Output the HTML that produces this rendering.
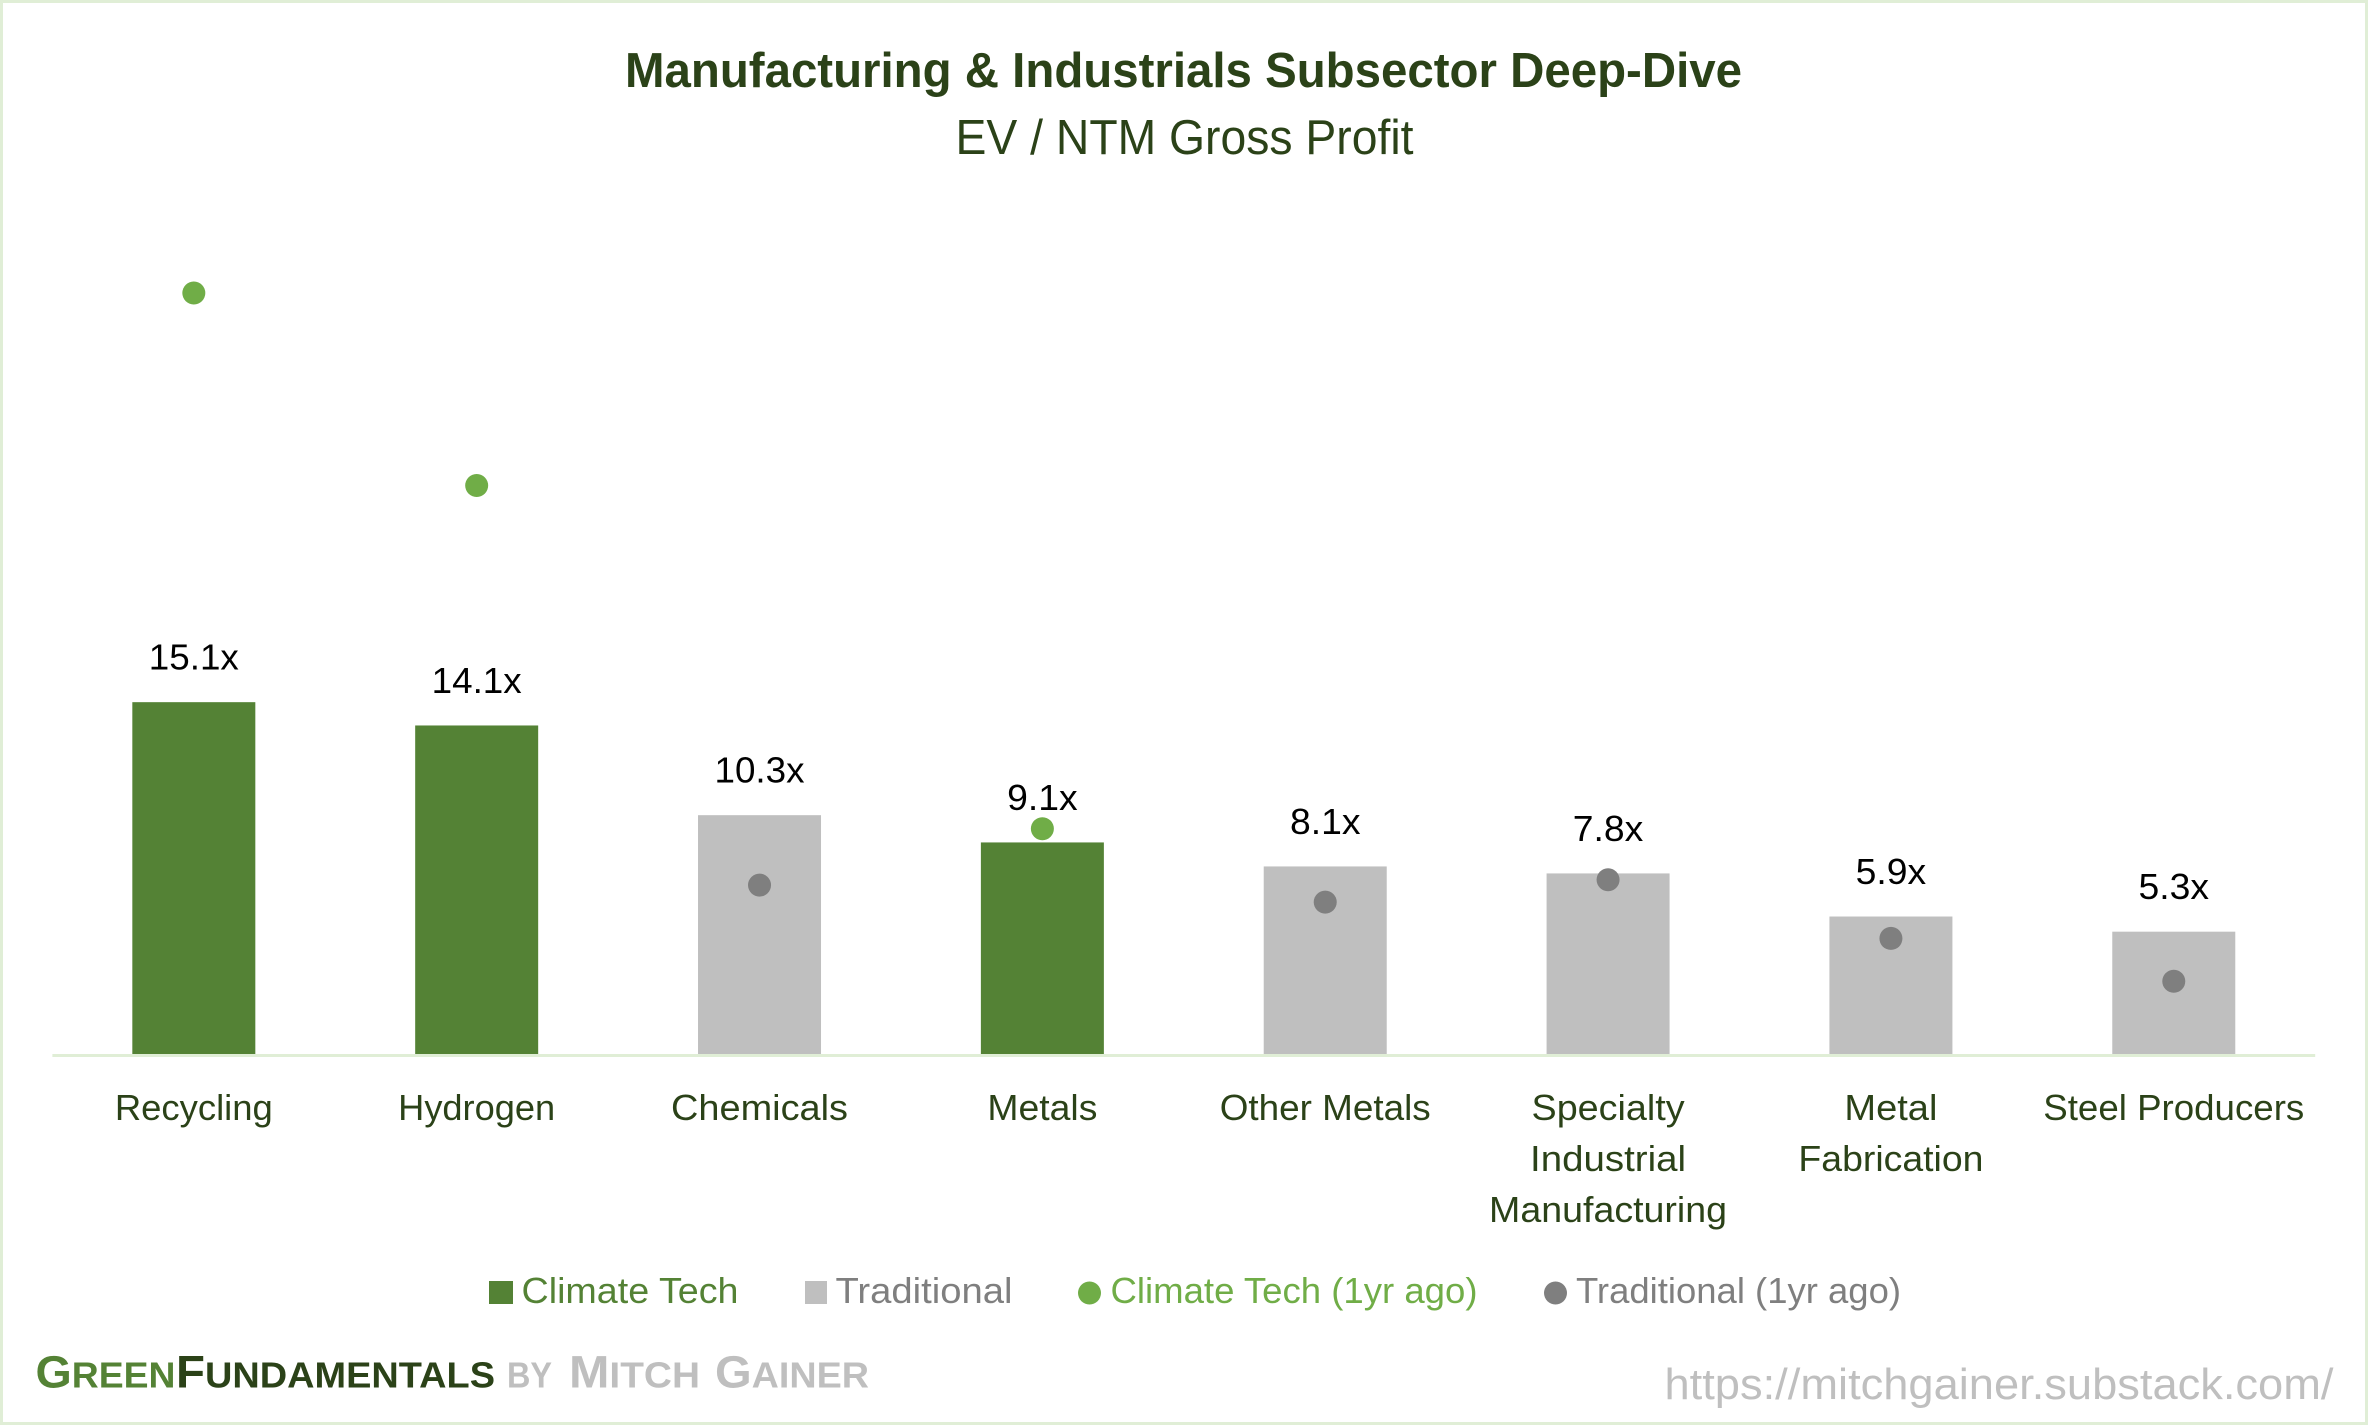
<!DOCTYPE html>
<html lang="en">
<head>
<meta charset="utf-8">
<title>Manufacturing &amp; Industrials Subsector Deep-Dive</title>
<style>
  html, body { margin: 0; padding: 0; background: #fff; }
  svg { display: block; }
  text { font-family: "Liberation Sans", sans-serif; }
</style>
</head>
<body>
<svg id="chart" xmlns="http://www.w3.org/2000/svg" width="2368" height="1425" viewBox="0 0 2368 1425">
  <rect x="1.5" y="1.5" width="2365" height="1422" fill="#ffffff" stroke="#e0eed6" stroke-width="3"/>

  <text x="625" y="87" font-size="49" font-weight="700" fill="#2b4218" textLength="1117" lengthAdjust="spacingAndGlyphs">Manufacturing &amp; Industrials Subsector Deep-Dive</text>
  <text x="955.5" y="154" font-size="49" fill="#2b4218" textLength="458" lengthAdjust="spacingAndGlyphs">EV / NTM Gross Profit</text>

  <g id="plot"></g>

  <g>
    <g>
      <rect x="489" y="1281" width="24" height="23" fill="#548235"/>
      <text x="521.5" y="1303" font-size="36.5" fill="#548235" textLength="217" lengthAdjust="spacingAndGlyphs">Climate Tech</text>
    </g>
    <g>
      <rect x="805" y="1281" width="22" height="23" fill="#bfbfbf"/>
      <text x="835.5" y="1303" font-size="36.5" fill="#7f7f7f" textLength="177" lengthAdjust="spacingAndGlyphs">Traditional</text>
    </g>
    <g>
      <circle cx="1089.5" cy="1293" r="11.5" fill="#70ad47"/>
      <text x="1110.5" y="1303" font-size="36.5" fill="#70ad47" textLength="367" lengthAdjust="spacingAndGlyphs">Climate Tech (1yr ago)</text>
    </g>
    <g>
      <circle cx="1555.5" cy="1293" r="11.5" fill="#7f7f7f"/>
      <text x="1576" y="1303" font-size="36.5" fill="#7f7f7f" textLength="325" lengthAdjust="spacingAndGlyphs">Traditional (1yr ago)</text>
    </g>
  </g>

  <g font-weight="700">
    <text x="35.5" y="1387.5" fill="#548235" textLength="140" lengthAdjust="spacingAndGlyphs"><tspan font-size="45">G</tspan><tspan font-size="36">REEN</tspan></text>
    <text x="176" y="1387.5" fill="#2b4218" textLength="319" lengthAdjust="spacingAndGlyphs"><tspan font-size="45">F</tspan><tspan font-size="36">UNDAMENTALS</tspan></text>
    <text x="507" y="1387.5" fill="#bfbfbf" font-size="36" textLength="45" lengthAdjust="spacingAndGlyphs">BY</text>
    <text x="569" y="1387.5" fill="#bfbfbf" textLength="131" lengthAdjust="spacingAndGlyphs"><tspan font-size="45">M</tspan><tspan font-size="36">ITCH</tspan></text>
    <text x="715" y="1387.5" fill="#bfbfbf" textLength="154" lengthAdjust="spacingAndGlyphs"><tspan font-size="45">G</tspan><tspan font-size="36">AINER</tspan></text>
  </g>
  <text x="1664.5" y="1399" font-size="44" fill="#bfbfbf" textLength="669" lengthAdjust="spacingAndGlyphs">https://mitchgainer.substack.com/</text>
</svg>

<script>
// Chart data
const categories = [
  ["Recycling"],
  ["Hydrogen"],
  ["Chemicals"],
  ["Metals"],
  ["Other Metals"],
  ["Specialty", "Industrial", "Manufacturing"],
  ["Metal", "Fabrication"],
  ["Steel Producers"]
];
const climateTech = [15.1, 14.1, null, 9.08, null, null, null, null];
const traditional = [null, null, 10.25, null, 8.05, 7.75, 5.9, 5.25];
const climateTech1yrAgo = [32.66, 24.4, null, 9.67, null, null, null, null];
const traditional1yrAgo = [null, null, 7.25, null, 6.52, 7.48, 4.96, 3.12];

function draw() {
  const NS = "http://www.w3.org/2000/svg";
  const plot = document.getElementById("plot");
  const plotLeft = 52.4, plotRight = 2315.2, baseline = 1054, pxPerUnit = 23.3, barWidth = 123;
  const lineWidths = {
    "Recycling": 158, "Hydrogen": 157, "Chemicals": 177, "Metals": 110, "Other Metals": 211,
    "Specialty": 153, "Industrial": 156, "Manufacturing": 238, "Metal": 93, "Fabrication": 185,
    "Steel Producers": 261
  };
  const step = (plotRight - plotLeft) / categories.length;
  const xScale = function (i) { return plotLeft + (i + 0.5) * step; };
  const yScale = function (v) { return baseline - v * pxPerUnit; };
  const slug = function (s) { return s.toLowerCase().replace(/[^a-z0-9]+/g, "-"); };

  function make(tag, attrs, text) {
    const el = document.createElementNS(NS, tag);
    Object.keys(attrs).forEach(function (k) { el.setAttribute(k, attrs[k]); });
    if (text !== undefined) el.textContent = text;
    plot.appendChild(el);
    return el;
  }

  function drawBars(series, color, seriesName) {
    series.forEach(function (v, i) {
      if (v === null) return;
      const key = slug(categories[i].join(" "));
      const bar = make("rect", {
        x: xScale(i) - barWidth / 2, y: yScale(v), width: barWidth, height: baseline - yScale(v), fill: color
      });
      
      
      const label = v.toFixed(1) + "x";
      const labelWidth = 19.5 * label.length - 7.5;
      const value = make("text", {
        x: xScale(i) - labelWidth / 2, y: yScale(v) - 32.5, "font-size": 36, fill: "#000000",
        textLength: labelWidth, lengthAdjust: "spacingAndGlyphs"
      }, label);
      
      
    });
  }

  function drawDots(series, color, seriesName) {
    series.forEach(function (v, i) {
      if (v === null) return;
      const dot = make("circle", { cx: xScale(i), cy: yScale(v), r: 11.5, fill: color });
      
      
    });
  }

  drawBars(climateTech, "#548235", "climate-tech");
  drawBars(traditional, "#bfbfbf", "traditional");

  const axis = make("rect", { x: plotLeft, y: baseline, width: plotRight - plotLeft, height: 3, fill: "#e0eed6" });
  
  

  drawDots(climateTech1yrAgo, "#70ad47", "climate-tech-1yr-ago");
  drawDots(traditional1yrAgo, "#7f7f7f", "traditional-1yr-ago");

  categories.forEach(function (lines, i) {
    lines.forEach(function (line, j) {
      const w = lineWidths[line];
      const tick = make("text", {
        x: xScale(i) - w / 2, y: 1120 + j * 51, "font-size": 36.5, fill: "#2b4218",
        textLength: w, lengthAdjust: "spacingAndGlyphs"
      }, line);
      
      
    });
  });
}
draw();
</script>
</body>
</html>
